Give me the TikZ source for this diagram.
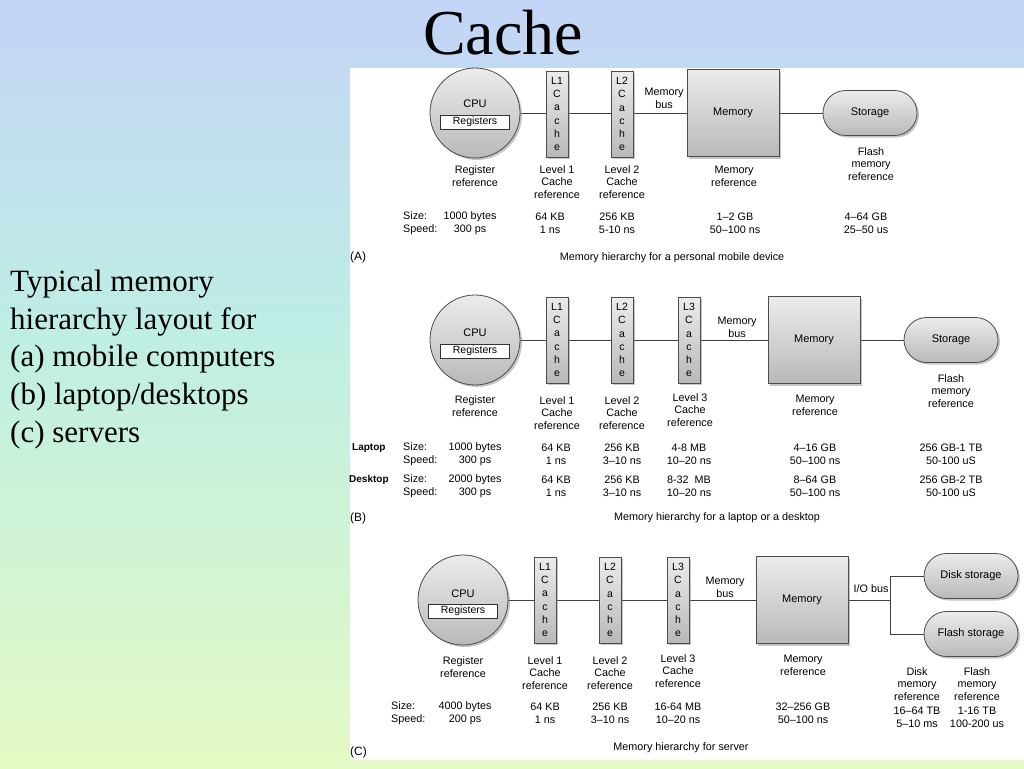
\documentclass[tikz,border=0pt]{standalone}
\usepackage{fontspec}
\setmainfont{Liberation Serif}
\newfontfamily\dsans{Liberation Sans}
\usetikzlibrary{shadows,shapes.misc,shapes.geometric}
\definecolor{bgtop}{RGB}{196,212,246}
\definecolor{bgmid}{RGB}{190,238,228}
\definecolor{bgbot}{RGB}{228,250,196}
\tikzset{
 x=1pt,y=-1pt,
 sh/.style={draw=black!70,line width=0.8pt,top color=gray!15,bottom color=gray!55,drop shadow={shadow xshift=2pt,shadow yshift=-2pt,fill=black!45}},
 cpu/.style={sh,ellipse,minimum width=90pt,minimum height=90pt,inner sep=0pt},
 regbox/.style={draw=black!80,fill=white,minimum width=69pt,minimum height=14pt,inner sep=0pt,font=\dsans\fontsize{10.5}{11}\selectfont},
 bar/.style={sh,minimum width=22pt,minimum height=86pt,inner sep=0pt,align=center,font=\dsans\fontsize{10.5}{13.2}\selectfont},
 mem/.style={sh,minimum width=92pt,minimum height=87pt,inner sep=0pt,font=\dsans\fontsize{11}{12}\selectfont},
 stor/.style={sh,rounded rectangle,minimum width=94pt,minimum height=45pt,inner sep=0pt,font=\dsans\fontsize{11}{12}\selectfont},
 lbl/.style={align=center,inner sep=0pt,font=\dsans\fontsize{10.8}{12.8}\selectfont},
 wire/.style={draw=black!75,line width=1pt},
}
\begin{document}
\begin{tikzpicture}
\shade[top color=bgtop,bottom color=bgmid] (0,0) rectangle (1024,330);
\shade[top color=bgmid,bottom color=bgbot] (0,330) rectangle (1024,768);
\useasboundingbox (0,0) rectangle (1024,768);
\fill[white] (350,68) rectangle (1024,760);
\node[font=\fontsize{64}{66}\selectfont] (title) at (503,33) {Cache};
\node[anchor=north west,align=left,inner sep=0pt,font=\fontsize{31}{37.6}\selectfont] (side) at (10,270) {Typical memory\\hierarchy layout for\\(a) mobile computers\\(b) laptop/desktops\\(c) servers};
% ---------- A
\draw[wire] (475,113) -- (870,113);
\node[cpu] (cpuA) at (475,113) {};
\node[lbl,font=\dsans\fontsize{11}{12}\selectfont] (cpuAt) at (475,104) {CPU};
\node[regbox] (regA) at (475,122) {Registers};
\node[bar] (l1A) at (557,114) {L1\\C\\a\\c\\h\\e};
\node[bar] (l2A) at (622,114) {L2\\C\\a\\c\\h\\e};
\node[lbl] (busA) at (664,98) {Memory\\bus};
\node[mem] (memA) at (733,113) {Memory};
\node[stor] (stA) at (870,113) {Storage};
\node[lbl] at (475,176) {Register\\reference};
\node[lbl] at (557,182) {Level 1\\Cache\\reference};
\node[lbl] at (622,182) {Level 2\\Cache\\reference};
\node[lbl] at (734,176) {Memory\\reference};
\node[lbl] at (871,164) {Flash\\memory\\reference};
\node[lbl,align=left,anchor=west] at (403,223) {Size:\\Speed:};
\node[lbl] at (470,223) {1000 bytes\\300 ps};
\node[lbl] at (550,223) {64 KB\\1 ns};
\node[lbl] at (617,223) {256 KB\\5-10 ns};
\node[lbl] at (735,223) {1–2 GB\\50–100 ns};
\node[lbl] at (866,223) {4–64 GB\\25–50 us};
\node[lbl,anchor=west,font=\dsans\fontsize{12}{12}\selectfont] at (350,257) {(A)};
\node[lbl] at (672,258) {Memory hierarchy for a personal mobile device};
% ---------- B
\draw[wire] (475,340) -- (951,340);
\node[cpu] (cpuB) at (475,340) {};
\node[lbl,font=\dsans\fontsize{11}{12}\selectfont] (cpuBt) at (475,333) {CPU};
\node[regbox] (regB) at (475,351) {Registers};
\node[bar] (l1B) at (557,340) {L1\\C\\a\\c\\h\\e};
\node[bar] (l2B) at (622,340) {L2\\C\\a\\c\\h\\e};
\node[bar] (l3B) at (689,340) {L3\\C\\a\\c\\h\\e};
\node[lbl] (busB) at (737,327) {Memory\\bus};
\node[mem] (memB) at (814,340) {Memory};
\node[stor] (stB) at (951,340) {Storage};
\node[lbl] at (475,406) {Register\\reference};
\node[lbl] at (557,413) {Level 1\\Cache\\reference};
\node[lbl] at (622,413) {Level 2\\Cache\\reference};
\node[lbl] at (690,410) {Level 3\\Cache\\reference};
\node[lbl] at (815,405) {Memory\\reference};
\node[lbl] at (951,391) {Flash\\memory\\reference};
\node[lbl,anchor=west,font=\dsans\bfseries\fontsize{10}{12}\selectfont] at (352,448) {Laptop};
\node[lbl,anchor=west,font=\dsans\bfseries\fontsize{10}{12}\selectfont] at (349,480) {Desktop};
\node[lbl,align=left,anchor=west] at (403,454) {Size:\\Speed:};
\node[lbl,align=left,anchor=west] at (403,486) {Size:\\Speed:};
\node[lbl] at (475,454) {1000 bytes\\300 ps};
\node[lbl] at (556,454) {64 KB\\1 ns};
\node[lbl] at (622,454) {256 KB\\3–10 ns};
\node[lbl] at (689,454) {4-8 MB\\10–20 ns};
\node[lbl] at (815,454) {4–16 GB\\50–100 ns};
\node[lbl] at (951,454) {256 GB-1 TB\\50-100 uS};
\node[lbl] at (475,486) {2000 bytes\\300 ps};
\node[lbl] at (556,486) {64 KB\\1 ns};
\node[lbl] at (622,486) {256 KB\\3–10 ns};
\node[lbl] at (689,486) {8-32 \ MB\\10–20 ns};
\node[lbl] at (815,486) {8–64 GB\\50–100 ns};
\node[lbl] at (951,486) {256 GB-2 TB\\50-100 uS};
\node[lbl,anchor=west,font=\dsans\fontsize{12}{12}\selectfont] at (350,518) {(B)};
\node[lbl] at (717,518) {Memory hierarchy for a laptop or a desktop};
% ---------- C
\draw[wire] (463,600) -- (890,600);
\draw[wire] (971,576) -| (890,634) -- (971,634);
\node[cpu] (cpuC) at (463,600) {};
\node[lbl,font=\dsans\fontsize{11}{12}\selectfont] (cpuCt) at (463,594) {CPU};
\node[regbox] (regC) at (463,611) {Registers};
\node[bar] (l1C) at (545,600) {L1\\C\\a\\c\\h\\e};
\node[bar] (l2C) at (610,600) {L2\\C\\a\\c\\h\\e};
\node[bar] (l3C) at (678,600) {L3\\C\\a\\c\\h\\e};
\node[lbl] (busC) at (725,587) {Memory\\bus};
\node[mem] (memC) at (802,600) {Memory};
\node[lbl,fill=white,inner sep=1pt] (io) at (871,589) {I/O bus};
\node[stor] (disk) at (971,576) {Disk storage};
\node[stor] (flash) at (971,634) {Flash storage};
\node[lbl] at (463,667) {Register\\reference};
\node[lbl] at (545,673) {Level 1\\Cache\\reference};
\node[lbl] at (610,673) {Level 2\\Cache\\reference};
\node[lbl] at (678,671) {Level 3\\Cache\\reference};
\node[lbl] at (803,665) {Memory\\reference};
\node[lbl] at (917,684) {Disk\\memory\\reference};
\node[lbl] at (977,684) {Flash\\memory\\reference};
\node[lbl,align=left,anchor=west] at (391,713) {Size:\\Speed:};
\node[lbl] at (465,713) {4000 bytes\\200 ps};
\node[lbl] at (545,713) {64 KB\\1 ns};
\node[lbl] at (610,713) {256 KB\\3–10 ns};
\node[lbl] at (678,713) {16-64 MB\\10–20 ns};
\node[lbl] at (803,713) {32–256 GB\\50–100 ns};
\node[lbl] at (917,717) {16–64 TB\\5–10 ms};
\node[lbl] at (977,717) {1-16 TB\\100-200 us};
\node[lbl,anchor=west,font=\dsans\fontsize{12}{12}\selectfont] at (350,752) {(C)};
\node[lbl] at (681,748) {Memory hierarchy for server};
\end{tikzpicture}
\end{document}
